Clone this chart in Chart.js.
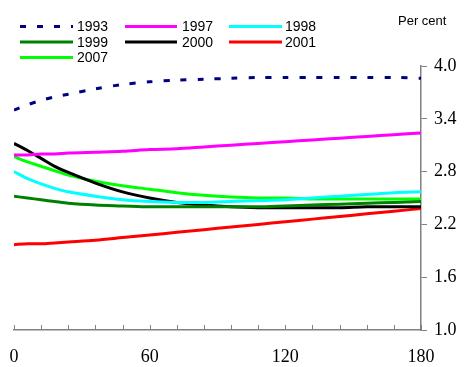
<!DOCTYPE html>
<html>
<head>
<meta charset="utf-8">
<script src="https://cdn.jsdelivr.net/npm/chart.js@4.4.1/dist/chart.umd.min.js"></script>
<style>
  html, body { margin: 0; padding: 0; background: #fff; }
  #wrap { width: 465px; height: 367px; position: relative; }
</style>
</head>
<body>
<div id="wrap"><canvas id="c" width="465" height="367"></canvas></div>
<script>
// Horizon in months
const months = [0, 6, 12, 18, 24, 36, 48, 60, 72, 84, 96, 108, 120, 132, 144, 156, 168, 180];

// Forward curves, per cent
const y1993 = [3.50, 3.56, 3.61, 3.65, 3.68, 3.74, 3.79, 3.82, 3.84, 3.85, 3.86, 3.87, 3.87, 3.87, 3.87, 3.87, 3.87, 3.86];
const y1997 = [2.99, 2.99, 3.00, 3.00, 3.01, 3.02, 3.03, 3.05, 3.06, 3.08, 3.10, 3.12, 3.14, 3.16, 3.18, 3.20, 3.22, 3.24];
const y1998 = [2.80, 2.72, 2.66, 2.61, 2.57, 2.52, 2.48, 2.46, 2.45, 2.45, 2.46, 2.47, 2.48, 2.50, 2.52, 2.54, 2.56, 2.57];
const y1999 = [2.52, 2.50, 2.48, 2.46, 2.44, 2.42, 2.41, 2.40, 2.40, 2.40, 2.40, 2.40, 2.41, 2.42, 2.43, 2.44, 2.45, 2.46];
const y2000 = [3.12, 3.04, 2.95, 2.86, 2.79, 2.67, 2.57, 2.50, 2.45, 2.42, 2.40, 2.39, 2.39, 2.39, 2.39, 2.40, 2.40, 2.40];
const y2001 = [1.97, 1.98, 1.98, 1.99, 2.00, 2.02, 2.05, 2.08, 2.11, 2.14, 2.17, 2.20, 2.23, 2.26, 2.29, 2.32, 2.35, 2.38];
const y2007 = [2.97, 2.91, 2.86, 2.81, 2.76, 2.69, 2.64, 2.60, 2.56, 2.53, 2.51, 2.50, 2.50, 2.49, 2.49, 2.49, 2.49, 2.49];

const xTicks = [0, 12, 24, 36, 48, 60, 72, 84, 96, 108, 120, 132, 144, 156, 168, 180];
const xLabelled = [0, 60, 120, 180];
const yTicks = [1.0, 1.6, 2.2, 2.8, 3.4, 4.0];

const series = [
  { label: '1993', values: y1993, color: '#000080', dash: [6, 11] },
  { label: '1997', values: y1997, color: '#ff00ff' },
  { label: '1998', values: y1998, color: '#00ffff' },
  { label: '1999', values: y1999, color: '#008000' },
  { label: '2000', values: y2000, color: '#000000' },
  { label: '2001', values: y2001, color: '#ff0000' },
  { label: '2007', values: y2007, color: '#00ff00' }
];

const AXIS = '#808080';
const SANS = '"Liberation Sans", Arial, sans-serif';
const SERIF = '"Liberation Serif", "Times New Roman", serif';

// Inward tick marks on the horizontal axis
const innerTicks = {
  id: 'innerTicks',
  afterDraw(chart) {
    const x = chart.scales.x, a = chart.chartArea, ctx = chart.ctx;
    ctx.save();
    ctx.strokeStyle = AXIS;
    ctx.lineWidth = 1;
    xTicks.forEach(v => {
      const px = Math.round(x.getPixelForValue(v)) + 0.5;
      ctx.beginPath();
      ctx.moveTo(px, a.bottom);
      ctx.lineTo(px, a.bottom - 5);
      ctx.stroke();
    });
    ctx.restore();
  }
};

// Three-column key and unit label above the plot
const keyBox = {
  id: 'keyBox',
  afterDraw(chart) {
    const ctx = chart.ctx;
    const cols = [[20, 73, 77], [125, 177, 182], [229, 282, 285]];
    const rows = [26.5, 42, 57.5];
    ctx.save();
    ctx.font = '14px ' + SANS;
    ctx.textBaseline = 'middle';
    chart.data.datasets.forEach((ds, i) => {
      const c = cols[i % 3], r = rows[Math.floor(i / 3)];
      ctx.strokeStyle = ds.borderColor;
      ctx.lineWidth = 3;
      ctx.setLineDash(ds.borderDash || []);
      ctx.beginPath();
      ctx.moveTo(c[0], r);
      ctx.lineTo(c[1], r);
      ctx.stroke();
      ctx.setLineDash([]);
      ctx.fillStyle = '#000';
      ctx.textAlign = 'left';
      ctx.fillText(ds.label, c[2], r + 1);
    });
    ctx.font = '13px ' + SANS;
    ctx.fillText('Per cent', 398, 21);
    ctx.restore();
  }
};

new Chart(document.getElementById('c'), {
  type: 'line',
  data: {
    datasets: series.map(s => ({
      label: s.label,
      data: months.map((m, i) => ({ x: m, y: s.values[i] })),
      borderColor: s.color,
      backgroundColor: s.color,
      borderDash: s.dash || [],
      borderWidth: 3,
      pointRadius: 0,
      tension: 0.3,
      fill: false
    }))
  },
  options: {
    responsive: false,
    animation: false,
    events: [],
    layout: { padding: { left: 14, top: 66, right: 0, bottom: 0 } },
    plugins: { legend: { display: false }, tooltip: { enabled: false } },
    scales: {
      x: {
        type: 'linear',
        min: 0, max: 180,
        afterFit(s) { s.height = 37; },
        afterBuildTicks(s) { s.ticks = xTicks.map(v => ({ value: v })); },
        grid: { display: false },
        border: { display: true, color: AXIS, width: 1.5 },
        ticks: {
          autoSkip: false,
          maxRotation: 0,
          padding: 8,
          color: '#000',
          font: { family: SERIF, size: 18 },
          callback: v => (xLabelled.includes(v) ? String(v) : '')
        }
      },
      y: {
        position: 'right',
        min: 1.0, max: 4.0,
        afterFit(s) { s.width = 44; },
        afterBuildTicks(s) { s.ticks = yTicks.map(v => ({ value: v })); },
        grid: { drawOnChartArea: false, drawTicks: true, tickLength: 6, color: AXIS, lineWidth: 1 },
        border: { display: true, color: AXIS, width: 1.5 },
        ticks: {
          padding: 7,
          color: '#000',
          font: { family: SERIF, size: 18 },
          callback: v => v.toFixed(1)
        }
      }
    }
  },
  plugins: [innerTicks, keyBox]
});
</script>
</body>
</html>
